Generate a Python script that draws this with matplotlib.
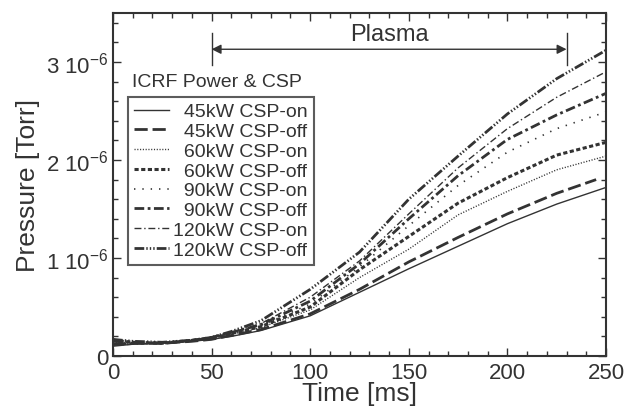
import matplotlib
matplotlib.use("Agg")
import matplotlib.pyplot as plt
import numpy as np
from matplotlib.ticker import MultipleLocator, FuncFormatter

plt.rcParams['font.family'] = ['Liberation Sans', 'DejaVu Sans']
plt.rcParams['mathtext.fontset'] = 'custom'
plt.rcParams['mathtext.rm'] = 'Liberation Sans'
plt.rcParams['mathtext.it'] = 'Liberation Sans:italic'
plt.rcParams['mathtext.bf'] = 'Liberation Sans:bold'
plt.rcParams['lines.scale_dashes'] = False

INK = '#333333'

# tiempos [ms] y presiones [1e-6 Torr]
t = [0, 10, 25, 40, 50, 60, 75, 100, 125, 150, 175, 200, 225, 250]
t_45off = [0, 10, 25, 40, 50, 60, 75, 100, 125, 150, 175, 200, 225, 245]

p_45on   = [0.10, 0.12, 0.13, 0.15, 0.17, 0.20, 0.26, 0.41, 0.65, 0.89, 1.12, 1.35, 1.55, 1.72]
p_45off  = [0.12, 0.13, 0.13, 0.15, 0.17, 0.21, 0.27, 0.43, 0.68, 0.96, 1.21, 1.45, 1.66, 1.80]
p_60on   = [0.14, 0.13, 0.13, 0.15, 0.18, 0.22, 0.29, 0.47, 0.80, 1.09, 1.44, 1.68, 1.90, 2.04]
p_60off  = [0.16, 0.14, 0.13, 0.16, 0.18, 0.23, 0.30, 0.50, 0.88, 1.22, 1.56, 1.82, 2.05, 2.18]
p_90on   = [0.13, 0.13, 0.14, 0.16, 0.18, 0.23, 0.31, 0.53, 0.91, 1.33, 1.74, 2.08, 2.32, 2.49]
p_90off  = [0.15, 0.14, 0.13, 0.16, 0.19, 0.24, 0.32, 0.56, 0.94, 1.40, 1.84, 2.21, 2.46, 2.68]
p_120on  = [0.11, 0.12, 0.13, 0.16, 0.19, 0.24, 0.33, 0.60, 0.97, 1.45, 1.92, 2.32, 2.64, 2.90]
p_120off = [0.17, 0.15, 0.14, 0.16, 0.19, 0.25, 0.36, 0.68, 1.06, 1.60, 2.04, 2.47, 2.83, 3.12]

etiquetas = ['\u200745kW CSP-on', '\u200745kW CSP-off',
             '\u200760kW CSP-on', '\u200760kW CSP-off',
             '\u200790kW CSP-on', '\u200790kW CSP-off',
             '120kW CSP-on', '120kW CSP-off']

plasma_ini, plasma_fin = 50, 230

fig = plt.figure(figsize=(6.43, 4.10), dpi=100)
ax = fig.add_axes([113/643, 1-357/410, 493/643, 343/410])

curvas = [
    (t, p_45on, 1.0, None),
    (t_45off, p_45off, 2.0, (9.5, 3.5)),
    (t, p_60on, 1.0, (0.8, 1.2)),
    (t, p_60off, 2.2, (3, 1.8)),
    (t, p_90on, 1.2, (1, 5)),
    (t, p_90off, 2.0, (7, 2.5, 2, 2.5)),
    (t, p_120on, 1.0, (5, 2, 1, 2)),
    (t, p_120off, 2.0, (7, 1.5, 1, 1.5, 1, 1.5, 1, 1.5)),
]

for (x, p, lw, dash), lab in zip(curvas, etiquetas):
    linea, = ax.plot(x, np.array(p) * 1e-6, color=INK, lw=lw, label=lab)
    if dash is not None:
        linea.set_dashes(dash)

ax.set_xlim(0, 250)
ax.set_ylim(0, 3.5e-6)

ax.xaxis.set_major_locator(MultipleLocator(50))
ax.xaxis.set_minor_locator(MultipleLocator(10))
ax.yaxis.set_major_locator(MultipleLocator(1e-6))
ax.yaxis.set_minor_locator(MultipleLocator(0.2e-6))

def fmt_y(v, pos):
    n = int(round(v / 1e-6))
    if n == 0:
        return '0'
    return '%d 10$^{-6}$' % n

ax.yaxis.set_major_formatter(FuncFormatter(fmt_y))

ax.tick_params(which='both', direction='in', top=True, right=True,
               colors=INK, labelsize=16, width=1.0)
ax.tick_params(which='major', length=6)
ax.tick_params(which='minor', length=3.5)
ax.tick_params(axis='x', pad=4)
for s in ax.spines.values():
    s.set_color(INK)
    s.set_linewidth(1.5)

ax.set_xlabel('Time [ms]', fontsize=19, color=INK, labelpad=-1)
ax.set_ylabel('Pressure [Torr]', fontsize=19, color=INK, labelpad=4)

# intervalo del plasma
y_flecha = 3.13e-6
ax.annotate('', xy=(plasma_ini, y_flecha), xytext=(plasma_fin, y_flecha),
            arrowprops=dict(arrowstyle='<|-|>', color=INK, lw=1.0,
                            mutation_scale=14, shrinkA=0, shrinkB=0))
ax.plot([plasma_ini, plasma_ini], [2.97e-6, 3.30e-6], color=INK, lw=1.0)
ax.plot([plasma_fin, plasma_fin], [2.97e-6, 3.30e-6], color=INK, lw=1.0)
ax.text((plasma_ini + plasma_fin) / 2, 3.29e-6, 'Plasma', ha='center', va='center',
        fontsize=17, color=INK)

ax.text(0.039, 0.80, 'ICRF Power & CSP', transform=ax.transAxes, ha='left',
        va='center', fontsize=14, color=INK)

leg = ax.legend(loc='upper left', bbox_to_anchor=(0.030, 0.755), fontsize=14,
                frameon=True, fancybox=False, edgecolor=INK, borderpad=0.3,
                handlelength=1.8, handletextpad=0.25, labelspacing=0.11,
                borderaxespad=0)
leg.get_frame().set_linewidth(1.5)
for tx in leg.get_texts():
    tx.set_color(INK)

fig.savefig('out.png', dpi=100)
